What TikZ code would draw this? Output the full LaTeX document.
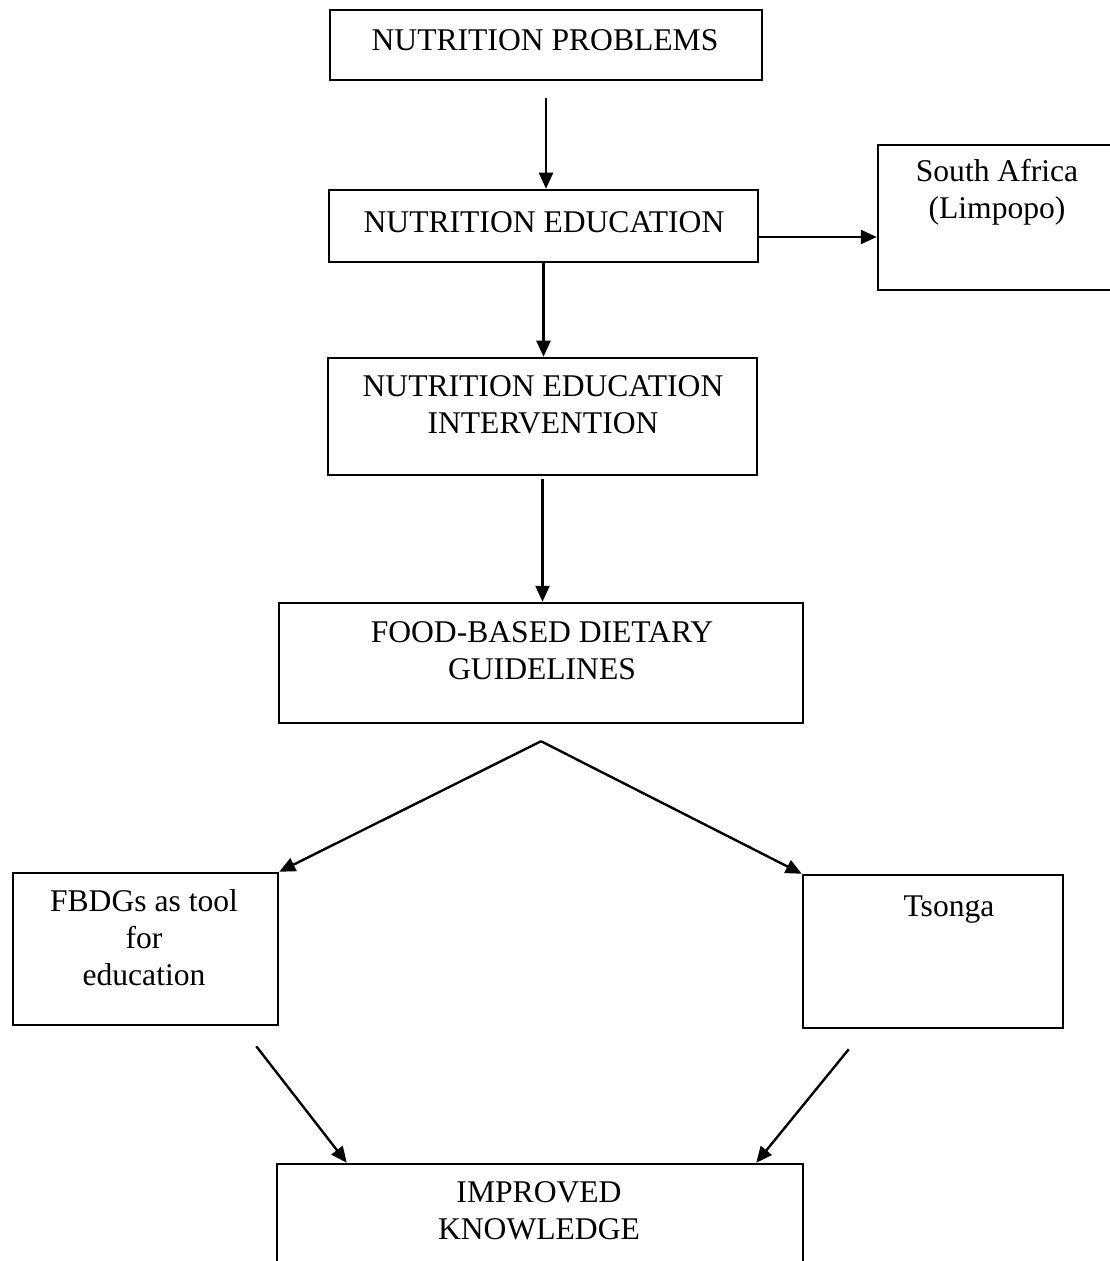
\documentclass[tikz,border=0pt]{standalone}
\usepackage{fontspec}
\setmainfont{Liberation Serif}
\usepackage{tikz}
\usetikzlibrary{arrows.meta,positioning,calc}

\begin{document}
\begin{tikzpicture}[
    x=0.5pt,y=-0.5pt,
    box/.style={rectangle,draw,line width=1.25pt,inner sep=0pt},
    txt/.style={align=center,inner sep=0pt,font=\fontsize{15.8}{18.5}\selectfont},
    arr/.style={-{Triangle[length=8pt,width=7pt]},line width=1.2pt}
]
\useasboundingbox (0,0) rectangle (1109,1261);

% Main chain
\node[box,minimum width=216pt,minimum height=35pt] (probs) at (546,45) {};
\node[box,minimum width=214.5pt,minimum height=36pt] (edu) at (543.5,226) {};
\node[box,minimum width=119pt,minimum height=72.5pt] (sa) at (997,217.5) {};
\node[box,minimum width=214.5pt,minimum height=58.5pt] (interv) at (542.5,416.5) {};
\node[box,minimum width=262pt,minimum height=60pt] (guide) at (541,663) {};

\node[txt] (probs-t) at (545,40) {NUTRITION PROBLEMS};
\node[txt] (edu-t) at (544,222) {NUTRITION EDUCATION};
\node[txt] (sa-t) at (997,192) {South Africa\\(Limpopo)};
\node[txt] (interv-t) at (543,405) {NUTRITION EDUCATION\\INTERVENTION};
\node[txt] (guide-t) at (542,651) {FOOD-BASED DIETARY\\GUIDELINES};

% Two branches
\node[box,minimum width=132.5pt,minimum height=76pt] (fbdg) at (145.5,949) {};
\node[box,minimum width=130pt,minimum height=76.5pt] (tsonga) at (933,951.5) {};
\node[box,minimum width=263pt,minimum height=49pt] (know) at (540,1213) {};

\node[txt] (fbdg-t) at (144,938) {FBDGs as tool\\for\\education};
\node[txt] (tsonga-t) at (949,910) {Tsonga};
\node[txt] (know-t) at (539,1211) {IMPROVED\\KNOWLEDGE};

\coordinate (split) at ([yshift=-8.5pt]guide.south);

\draw[arr,shorten <=8.5pt] (probs.south) -- (probs.south |- edu.north);
\draw[arr] ([yshift=-5.5pt]edu.east) -- ([yshift=-5.5pt]edu.east -| sa.west);
\draw[arr] (edu.south) -- (edu.south |- interv.north);
\draw[arr,shorten <=1.5pt] (interv.south) -- (interv.south |- guide.north);
\draw[arr] (split) -- (fbdg.north east);
\draw[arr] (split) -- (tsonga.north west);
\draw[arr] ([shift={(-11.5pt,-10pt)}]fbdg.south east) -- ([xshift=35.5pt]know.north west);
\draw[arr] ([shift={(23.5pt,-10pt)}]tsonga.south west) -- ([xshift=-24pt]know.north east);
\end{tikzpicture}
\end{document}
